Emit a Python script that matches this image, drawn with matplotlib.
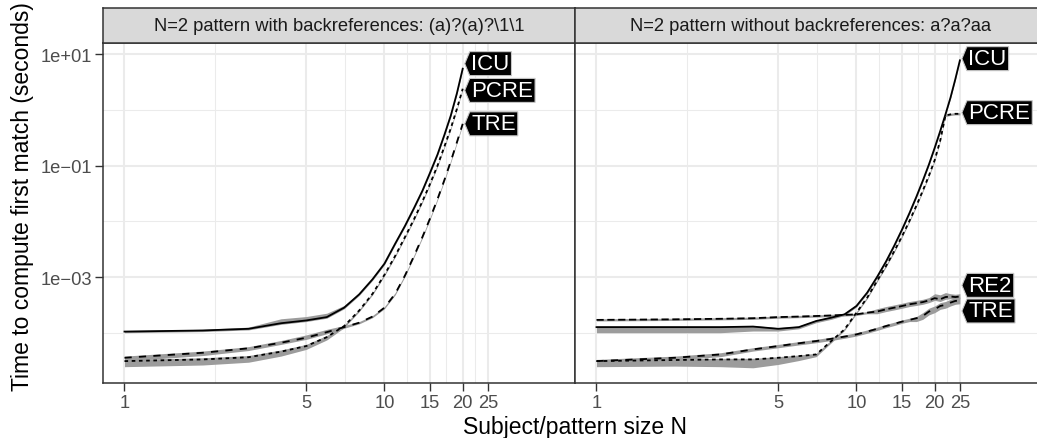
import matplotlib
matplotlib.use("Agg")
import matplotlib.pyplot as plt
import numpy as np
from matplotlib.patches import Polygon
from matplotlib.ticker import NullFormatter
from matplotlib.transforms import IdentityTransform

plt.rcParams["font.family"] = ["Liberation Sans", "DejaVu Sans"]

# === DATA (times as log10 seconds) ===

N_LEFT = list(range(1, 21))
N_RIGHT = list(range(1, 26))

STRIP_LEFT = r"N=2 pattern with backreferences: (a)?(a)?\1\1"
STRIP_RIGHT = "N=2 pattern without backreferences: a?a?aa"

icu_left = [-3.98, -3.96, -3.93, -3.83, -3.78, -3.72, -3.55, -3.31, -3.04, -2.76,
            -2.40, -2.08, -1.76, -1.45, -1.12, -0.80, -0.45, -0.10, 0.30, 0.74]
pcre_left = [-4.51, -4.48, -4.44, -4.34, -4.24, -4.08, -3.88, -3.60, -3.30, -2.96,
             -2.62, -2.28, -1.96, -1.64, -1.32, -1.00, -0.66, -0.33, 0.02, 0.38]
tre_left = [-4.45, -4.36, -4.28, -4.18, -4.09, -3.99, -3.90, -3.82, -3.71, -3.55,
            -3.30, -2.97, -2.62, -2.28, -1.94, -1.60, -1.26, -0.92, -0.58, -0.25]

icu_right = [-3.90, -3.90, -3.90, -3.89, -3.93, -3.90, -3.79, -3.73, -3.67, -3.52,
             -3.28, -3.00, -2.72, -2.43, -2.14, -1.85, -1.56, -1.27, -0.98, -0.68,
             -0.38, -0.08, 0.22, 0.55, 0.89]
pcre_right = [-4.51, -4.49, -4.48, -4.48, -4.45, -4.42, -4.39, -4.15, -3.94, -3.64,
              -3.37, -3.07, -2.80, -2.53, -2.26, -1.99, -1.72, -1.45, -1.18, -0.90,
              -0.55, -0.10, -0.08, -0.07, -0.07]
re2_right = [-3.77, -3.76, -3.75, -3.74, -3.72, -3.71, -3.70, -3.69, -3.68, -3.67,
             -3.64, -3.62, -3.58, -3.55, -3.52, -3.49, -3.47, -3.45, -3.42, -3.38,
             -3.40, -3.36, -3.35, -3.36, -3.35]
tre_right = [-4.51, -4.45, -4.39, -4.30, -4.24, -4.19, -4.15, -4.11, -4.07, -4.03,
             -3.98, -3.93, -3.88, -3.84, -3.80, -3.77, -3.74, -3.70, -3.62, -3.58,
             -3.52, -3.50, -3.46, -3.43, -3.42]

# ribbon spread below / above the median (decades)
icu_left_lo = [0.02] * 20
icu_left_hi = [0.02, 0.02, 0.03, 0.08, 0.07, 0.07, 0.04, 0.02, 0.02, 0.02,
               0.02, 0.02, 0.02, 0.02, 0.02, 0.02, 0.02, 0.02, 0.02, 0.02]
pcre_left_lo = [0.10, 0.10, 0.09, 0.08, 0.06, 0.05, 0.03, 0.02, 0.02, 0.02,
                0.02, 0.02, 0.02, 0.02, 0.02, 0.02, 0.02, 0.02, 0.02, 0.02]
pcre_left_hi = [0.03] * 6 + [0.02] * 14
tre_left_lo = [0.06, 0.05, 0.04, 0.03, 0.03, 0.03] + [0.02] * 14
tre_left_hi = [0.03, 0.03, 0.03, 0.04, 0.05, 0.05, 0.03] + [0.02] * 13

icu_right_lo = [0.10, 0.10, 0.10, 0.08, 0.04, 0.03, 0.03, 0.03] + [0.02] * 17
icu_right_hi = [0.02] * 25
pcre_right_lo = [0.10, 0.11, 0.13, 0.15, 0.12, 0.08, 0.04, 0.03] + [0.02] * 17
pcre_right_hi = [0.02] * 25
re2_right_lo = [0.02] * 11 + [0.04] * 14
re2_right_hi = [0.02] * 11 + [0.05] * 8 + [0.08, 0.08, 0.08] + [0.05] * 3
tre_right_lo = [0.04, 0.04, 0.04] + [0.03] * 13 + [0.06] * 9
tre_right_hi = [0.03] * 17 + [0.06] * 8

# direct label heights (log10 seconds) after overlap avoidance
LABELS_LEFT = ["ICU", "PCRE", "TRE"]
label_y_left = [0.83, 0.35, -0.25]
LABELS_RIGHT = ["ICU", "PCRE", "RE2", "TRE"]
label_y_right = [0.92, -0.05, -3.15, -3.61]

X_BREAKS = [1, 5, 10, 15, 20, 25]
Y_BREAKS = [1e-3, 1e-1, 1e1]
Y_TICK_LABELS = ["1e\u221203", "1e\u221201", "1e+01"]

LINESTYLES = {
    "ICU": "-",
    "PCRE": (0, (2, 2)),
    "RE2": (0, (4, 2)),
    "TRE": (0, (4, 4)),
}

# === LAYOUT (pixels) ===

W, H, DPI = 1037, 439, 100
PANEL_TOP, PANEL_BOTTOM = 44, 384
STRIP_TOP = 9
PANEL_W = 472
LEFT_X0, RIGHT_X0 = 103, 575

GREY20 = "#333333"
GREY30 = "#4D4D4D"
GRID = "#EBEBEB"
RIBBON = "#9C9C9C"


def fig_rect(x0, y0, w, h):
    return [x0 / W, (H - y0 - h) / H, w / W, h / H]


fig = plt.figure(figsize=(W / DPI, H / DPI), dpi=DPI)
fig.patch.set_facecolor("white")

ax_left = fig.add_axes(fig_rect(LEFT_X0, PANEL_TOP, PANEL_W, PANEL_BOTTOM - PANEL_TOP))
ax_right = fig.add_axes(fig_rect(RIGHT_X0, PANEL_TOP, PANEL_W, PANEL_BOTTOM - PANEL_TOP))

x_minor = [np.sqrt(a * b) for a, b in zip(X_BREAKS[:-1], X_BREAKS[1:])]
y_minor = [1e-4, 1e-2, 1e0]

for ax in (ax_left, ax_right):
    ax.set_xscale("log")
    ax.set_yscale("log")
    ax.set_xlim(10 ** -0.0827, 10 ** 1.733)
    ax.set_ylim(10 ** -4.903, 10 ** 1.201)
    ax.set_xticks(X_BREAKS)
    ax.set_xticklabels([str(b) for b in X_BREAKS])
    ax.set_xticks(x_minor, minor=True)
    ax.set_yticks(Y_BREAKS)
    ax.set_yticks(y_minor, minor=True)
    ax.xaxis.set_minor_formatter(NullFormatter())
    ax.yaxis.set_minor_formatter(NullFormatter())
    ax.grid(which="major", color=GRID, linewidth=1.45)
    ax.grid(which="minor", color=GRID, linewidth=0.75)
    ax.set_axisbelow(True)
    ax.tick_params(which="major", length=5.5, width=1.0, color=GREY20,
                   labelsize=13.2, labelcolor=GREY30, pad=2.5)
    ax.tick_params(which="minor", length=0)
    for sp in ax.spines.values():
        sp.set_color(GREY20)
        sp.set_linewidth(1.1)

ax_left.set_yticklabels(Y_TICK_LABELS)
ax_right.tick_params(axis="y", which="both", left=False, labelleft=False)


def draw_series(ax, n, vals, lo, hi, name):
    v = np.array(vals)
    ax.fill_between(n, 10 ** (v - np.array(lo)), 10 ** (v + np.array(hi)),
                    color=RIBBON, linewidth=0, zorder=2)
    ax.plot(n, 10 ** v, color="black", linewidth=1.3,
            linestyle=LINESTYLES[name], zorder=3)


draw_series(ax_left, N_LEFT, icu_left, icu_left_lo, icu_left_hi, "ICU")
draw_series(ax_left, N_LEFT, pcre_left, pcre_left_lo, pcre_left_hi, "PCRE")
draw_series(ax_left, N_LEFT, tre_left, tre_left_lo, tre_left_hi, "TRE")

draw_series(ax_right, N_RIGHT, icu_right, icu_right_lo, icu_right_hi, "ICU")
draw_series(ax_right, N_RIGHT, pcre_right, pcre_right_lo, pcre_right_hi, "PCRE")
draw_series(ax_right, N_RIGHT, re2_right, re2_right_lo, re2_right_hi, "RE2")
draw_series(ax_right, N_RIGHT, tre_right, tre_right_lo, tre_right_hi, "TRE")

# facet strips
for x0, label in ((LEFT_X0, STRIP_LEFT), (RIGHT_X0, STRIP_RIGHT)):
    sax = fig.add_axes(fig_rect(x0, STRIP_TOP, PANEL_W, PANEL_TOP - STRIP_TOP))
    sax.set_facecolor("#D9D9D9")
    sax.set_xticks([])
    sax.set_yticks([])
    for sp in sax.spines.values():
        sp.set_color(GREY20)
        sp.set_linewidth(1.1)
    sax.text(0.5, 0.5, label, transform=sax.transAxes, ha="center", va="center",
             fontsize=13.2, color="#1A1A1A")

# axis titles
fig.text((103 + 1047) / 2 / W, 1 - 428 / H, "Subject/pattern size N",
         ha="center", va="center", fontsize=16.5, color="black")
fig.text(23 / W, 1 - ((STRIP_TOP + PANEL_BOTTOM) / 2) / H,
         "Time to compute first match (seconds)", rotation=90,
         ha="center", va="center", fontsize=16.5, color="black")

# direct labels: black pentagon with white text, tip at the line end
renderer = fig.canvas.get_renderer()


def draw_label(ax, x_end, y_log, text):
    px, py = ax.transData.transform((x_end, 10 ** y_log))
    px += 2
    tip, half_h = 5.0, 12.0
    t = fig.text(px + tip + 1.5, py, text, transform=IdentityTransform(),
                 ha="left", va="center", fontsize=16, color="white", zorder=11)
    bb = t.get_window_extent(renderer)
    x1 = bb.x1 + 2
    verts = [(px, py), (px + tip, py + half_h), (x1, py + half_h),
             (x1, py - half_h), (px + tip, py - half_h)]
    poly = Polygon(verts, closed=True, transform=IdentityTransform(),
                   facecolor="black", edgecolor="#C8C8C8", linewidth=0.8, zorder=10)
    fig.add_artist(poly)


for name, y in zip(LABELS_LEFT, label_y_left):
    draw_label(ax_left, N_LEFT[-1], y, name)
for name, y in zip(LABELS_RIGHT, label_y_right):
    draw_label(ax_right, N_RIGHT[-1], y, name)

fig.savefig("out.png", dpi=DPI)
